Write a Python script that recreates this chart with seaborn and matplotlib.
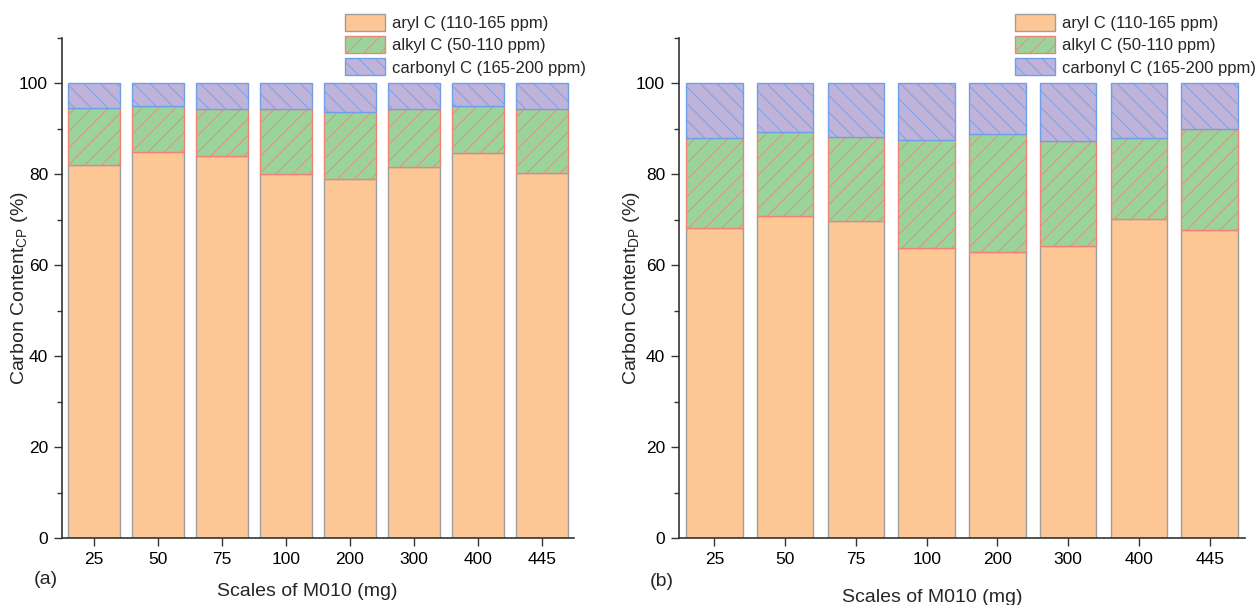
import matplotlib
matplotlib.use("Agg")
import matplotlib.pyplot as plt
import seaborn as sns
import pandas as pd
import numpy as np
from matplotlib.patches import Patch
from matplotlib.ticker import MultipleLocator

# ---- data ----
scales = ["25", "50", "75", "100", "200", "300", "400", "445"]
series_names = ["aryl C (110-165 ppm)", "alkyl C (50-110 ppm)", "carbonyl C (165-200 ppm)"]

aryl_cp = [82.1, 84.9, 84.1, 80.1, 79.0, 81.7, 84.8, 80.2]
alkyl_cp = [12.6, 10.1, 10.3, 14.3, 14.8, 12.6, 10.2, 14.2]
carbonyl_cp = [5.3, 5.0, 5.6, 5.6, 6.2, 5.7, 5.0, 5.6]

aryl_dp = [68.3, 70.9, 69.8, 63.7, 62.9, 64.3, 70.2, 67.7]
alkyl_dp = [19.7, 18.5, 18.4, 23.9, 26.0, 23.1, 17.9, 22.2]
carbonyl_dp = [12.0, 10.6, 11.8, 12.4, 11.1, 12.6, 11.9, 10.1]

# ---- styles ----
fills = ["#FDC795", "#9BD49B", "#C0B3DA"]
edges = ["#9E9E9E", "#EE8478", "#6E9FEA"]
hatches = ["", "//", "\\\\"]

sns.set_style("ticks")
plt.rcParams['font.family'] = ['Liberation Sans', 'DejaVu Sans']
plt.rcParams['hatch.linewidth'] = 0.6
plt.rcParams['axes.edgecolor'] = '#333333'
plt.rcParams['xtick.color'] = '#333333'
plt.rcParams['ytick.color'] = '#333333'
plt.rcParams['xtick.labelcolor'] = 'black'
plt.rcParams['ytick.labelcolor'] = 'black'

W, H = 1257, 605
fig = plt.figure(figsize=(W / 100, H / 100), dpi=100)

def px_axes(x0, x1, y0, y1):
    return fig.add_axes([x0 / W, 1 - y1 / H, (x1 - x0) / W, (y1 - y0) / H])

ax1 = px_axes(62, 574, 38, 538)
ax2 = px_axes(679, 1245, 38, 538)

def draw(ax, aryl, alkyl, carbonyl):
    df = pd.DataFrame({"scale": scales, "aryl": aryl, "alkyl": alkyl, "carbonyl": carbonyl})
    bottoms = [np.zeros(len(scales)),
               df["aryl"].to_numpy(),
               (df["aryl"] + df["alkyl"]).to_numpy()]
    for i, col in enumerate(["aryl", "alkyl", "carbonyl"]):
        sns.barplot(data=df, x="scale", y=col, order=scales, ax=ax, color=fills[i],
                    saturation=1, width=0.8, edgecolor=edges[i], linewidth=1.0,
                    hatch=hatches[i], errorbar=None, bottom=bottoms[i])
    ax.set_xlim(-0.5, 7.5)
    ax.set_ylim(0, 110)
    ax.set_yticks([0, 20, 40, 60, 80, 100])
    ax.yaxis.set_minor_locator(MultipleLocator(10))
    ax.set_xlabel("")
    ax.set_ylabel("")
    sns.despine(ax=ax)
    ax.tick_params(axis='both', which='major', direction='out', length=6, width=1, labelsize=12.5, pad=4)
    ax.tick_params(axis='y', which='minor', direction='out', length=3.5, width=1)
    ax.tick_params(axis='x', which='minor', bottom=False)
    for s in ax.spines.values():
        s.set_linewidth(1.2)

draw(ax1, aryl_cp, alkyl_cp, carbonyl_cp)
draw(ax2, aryl_dp, alkyl_dp, carbonyl_dp)

handles = [Patch(facecolor=fills[i], edgecolor=edges[i], hatch=hatches[i], linewidth=1.0)
           for i in range(3)]
for anchor_x in (345, 1015):
    fig.legend(handles, series_names, loc='upper left',
               bbox_to_anchor=(anchor_x / W, 1 - 14 / H), frameon=False,
               fontsize=12, handlelength=2.4, handleheight=1.2,
               labelspacing=0.3, handletextpad=0.45, borderaxespad=0, borderpad=0)

# axis labels
fig.text(307 / W, 1 - 592 / H, "Scales of M010 (mg)", ha='center', va='center', fontsize=14)
fig.text(932 / W, 1 - 597 / H, "Scales of M010 (mg)", ha='center', va='center', fontsize=14)
fig.text(20 / W, 1 - 288 / H, r"Carbon Content$_\mathregular{CP}$ (%)", ha='center', va='center',
         rotation=90, fontsize=14)
fig.text(632 / W, 1 - 288 / H, r"Carbon Content$_\mathregular{DP}$ (%)", ha='center', va='center',
         rotation=90, fontsize=14)
fig.text(46 / W, 1 - 579 / H, "(a)", ha='center', va='center', fontsize=14)
fig.text(662 / W, 1 - 581 / H, "(b)", ha='center', va='center', fontsize=14)

fig.savefig("out.png", dpi=100)
